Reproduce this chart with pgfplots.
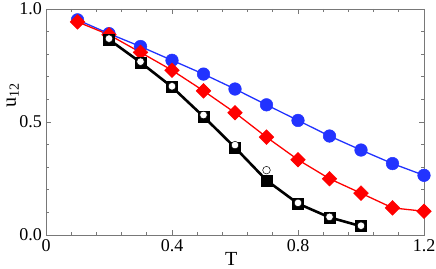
\documentclass[border=0pt]{standalone}
\usepackage{pgfplots}
\pgfplotsset{compat=1.18}
\usepackage{fontspec}
\setmainfont{Liberation Serif}
\usetikzlibrary{calc}
\definecolor{myblue}{RGB}{34,51,255}
\definecolor{myred}{RGB}{255,0,0}
\definecolor{axgray}{RGB}{120,120,120}
\begin{document}
\fontsize{15bp}{18bp}\selectfont
\begin{tikzpicture}[x=1bp,y=1bp]
\begin{axis}[
  scale only axis,
  width=378bp, height=226bp,
  xmin=0, xmax=1.2, ymin=0, ymax=1.0,
  xtick={0,0.4,0.8,1.2},
  xticklabels={0,0.4,0.8,1.2},
  ytick={0,0.5,1.0},
  yticklabels={0.0,0.5,1.0},
  minor x tick num=4,
  minor y tick num=4,
  tick align=inside,
  major tick length=5bp,
  minor tick length=3bp,
  axis line style={axgray, line width=0.8bp},
  every tick/.style={axgray, line width=0.8bp},
  tick label style={font=\fontsize{18bp}{20bp}\selectfont},
  xticklabel style={yshift=1bp},
  yticklabel style={xshift=1bp},
  /pgf/number format/assume math mode=true,
  xlabel={T},
  ylabel={u\textsubscript{12}},
  label style={font=\fontsize{20bp}{22bp}\selectfont},
  xlabel style={at={(axis description cs:0.49,0)}, anchor=center, yshift=-24bp},
  ylabel style={at={(axis description cs:-0.088,0.62)}, anchor=center},
  clip=false,
]
\coordinate (ll) at (rel axis cs:0,0);
\coordinate (ur) at (rel axis cs:1,1);
\addplot[myblue, line width=1.3bp, mark=*, mark size=6.3bp, mark options={fill=myblue, draw=myblue, line width=0.5bp}]
coordinates {(0.1,0.952)(0.2,0.891)(0.3,0.834)(0.4,0.773)(0.5,0.712)(0.6,0.646)(0.7,0.576)(0.8,0.507)(0.9,0.438)(1.0,0.376)(1.1,0.316)(1.2,0.264)};
\addplot[myred, line width=1.3bp, mark=square*, mark size=5.2bp, mark options={fill=myred, draw=myred, line width=0.5bp, rotate=45}]
coordinates {(0.1,0.943)(0.2,0.886)(0.3,0.808)(0.4,0.729)(0.5,0.638)(0.6,0.541)(0.7,0.433)(0.8,0.333)(0.9,0.249)(1.0,0.185)(1.1,0.120)(1.2,0.105)};
\addplot[black, line width=2.6bp, mark=square*, mark size=5.5bp, mark options={fill=black, draw=black, line width=0.5bp}]
coordinates {(0.2,0.865)(0.3,0.764)(0.4,0.655)(0.5,0.524)(0.6,0.387)(0.7,0.242)(0.8,0.139)(0.9,0.078)(1.0,0.039)};
\addplot[only marks, mark=*, mark size=3.8bp, mark options={fill=white, draw=black, line width=0.5bp}]
coordinates {(0.2,0.869)(0.3,0.767)(0.4,0.658)(0.5,0.531)(0.6,0.398)(0.7,0.287)(0.8,0.142)(0.9,0.080)(1.0,0.041)};
\end{axis}
\pgfresetboundingbox
\path ($(ll)+(-46bp,-34bp)$) rectangle ($(ur)+(12bp,9bp)$);
\end{tikzpicture}
\end{document}
